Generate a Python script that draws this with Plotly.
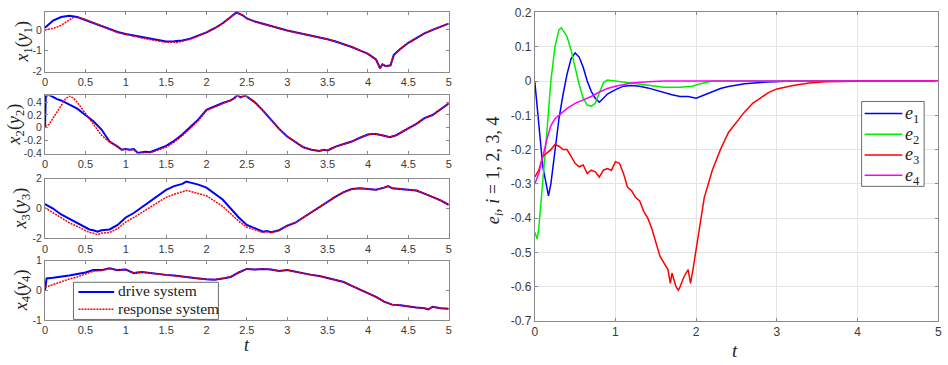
import plotly.graph_objects as go

# ---------------- data (t, value) points ----------------
x1_drive = [(0,0.10),(0.1,0.45),(0.2,0.62),(0.3,0.68),(0.4,0.62),(0.5,0.48),(0.6,0.33),(0.7,0.18),
            (0.8,0.05),(0.9,-0.10),(1.0,-0.20),(1.1,-0.27),(1.2,-0.36),(1.3,-0.44),(1.4,-0.50),(1.5,-0.56),
            (1.6,-0.55),(1.7,-0.51),(1.8,-0.42),(1.9,-0.28),(2.0,-0.12),(2.1,0.08),(2.2,0.32),(2.3,0.62),
            (2.37,0.84),(2.45,0.70),(2.5,0.55),(2.6,0.40),(2.7,0.29),(2.8,0.18),(2.9,0.07),(3.0,-0.03),
            (3.1,-0.11),(3.2,-0.19),(3.3,-0.27),(3.4,-0.35),(3.5,-0.45),(3.6,-0.56),(3.7,-0.68),(3.8,-0.82),
            (3.9,-0.98),(4.0,-1.15),(4.05,-1.28),(4.1,-1.42),(4.15,-1.84),(4.18,-1.65),(4.22,-1.74),(4.28,-1.70),
            (4.32,-1.20),(4.4,-0.92),(4.5,-0.62),(4.6,-0.38),(4.7,-0.17),(4.8,0.0),(4.9,0.15),(5.0,0.30)]
x1_resp = [(0,0.0),(0.1,0.07),(0.2,0.22),(0.3,0.50),(0.35,0.60),(0.4,0.60),(0.5,0.50),(0.6,0.34),
           (0.7,0.17),(0.8,0.03),(0.9,-0.13),(1.0,-0.23),(1.1,-0.30),(1.2,-0.39),(1.3,-0.47),(1.4,-0.53),
           (1.5,-0.59),(1.6,-0.58),(1.65,-0.60),(1.7,-0.54),(1.8,-0.45),(1.9,-0.30),(2.0,-0.13),(2.1,0.06),
           (2.2,0.30),(2.3,0.60),(2.37,0.83),(2.45,0.70),(2.5,0.55),(2.6,0.40),(2.7,0.29),(2.8,0.18),
           (2.9,0.07),(3.0,-0.03),(3.1,-0.11),(3.2,-0.19),(3.3,-0.27),(3.4,-0.35),(3.5,-0.45),(3.6,-0.56),
           (3.7,-0.68),(3.8,-0.82),(3.9,-0.98),(4.0,-1.15),(4.05,-1.28),(4.1,-1.42),(4.15,-1.84),(4.18,-1.65),
           (4.22,-1.74),(4.28,-1.70),(4.32,-1.20),(4.4,-0.92),(4.5,-0.62),(4.6,-0.38),(4.7,-0.17),(4.8,0.0),
           (4.9,0.15),(5.0,0.30)]

x2_drive = [(0,0.0),(0.01,0.50),(0.05,0.52),(0.1,0.48),(0.15,0.45),(0.2,0.43),(0.3,0.37),(0.4,0.30),
            (0.5,0.20),(0.6,0.10),(0.7,-0.03),(0.8,-0.22),(0.9,-0.30),(0.95,-0.35),(1.0,-0.34),(1.05,-0.35),
            (1.1,-0.34),(1.15,-0.40),(1.2,-0.39),(1.25,-0.38),(1.3,-0.39),(1.4,-0.34),(1.5,-0.29),(1.6,-0.21),
            (1.7,-0.11),(1.8,0.01),(1.9,0.13),(2.0,0.28),(2.1,0.34),(2.2,0.39),(2.3,0.43),(2.35,0.47),
            (2.38,0.52),(2.42,0.48),(2.48,0.51),(2.55,0.45),(2.6,0.40),(2.7,0.27),(2.8,0.12),(2.9,-0.02),
            (3.0,-0.14),(3.1,-0.23),(3.2,-0.31),(3.3,-0.35),(3.35,-0.36),(3.4,-0.37),(3.45,-0.35),(3.5,-0.36),
            (3.55,-0.33),(3.6,-0.30),(3.7,-0.26),(3.8,-0.22),(3.9,-0.16),(4.0,-0.11),(4.05,-0.10),(4.1,-0.10),
            (4.2,-0.13),(4.27,-0.15),(4.35,-0.12),(4.4,-0.08),(4.5,-0.01),(4.6,0.06),(4.7,0.15),(4.8,0.20),
            (4.9,0.29),(5.0,0.38)]
x2_resp = [(0,0.02),(0.05,0.05),(0.1,0.15),(0.15,0.25),(0.2,0.36),(0.25,0.45),(0.3,0.50),(0.35,0.47),
           (0.4,0.40),(0.5,0.22),(0.6,0.04),(0.7,-0.12),(0.8,-0.23),(0.9,-0.30),(0.95,-0.35),(1.0,-0.34),
           (1.05,-0.35),(1.1,-0.35),(1.15,-0.41),(1.2,-0.40),(1.25,-0.40),(1.3,-0.40),(1.4,-0.36),(1.5,-0.31),
           (1.6,-0.23),(1.7,-0.13),(1.8,-0.01),(1.9,0.11),(2.0,0.27),(2.1,0.33),(2.2,0.38),(2.3,0.43),
           (2.35,0.47),(2.38,0.52),(2.42,0.48),(2.48,0.51),(2.55,0.45),(2.6,0.40),(2.7,0.27),(2.8,0.12),
           (2.9,-0.02),(3.0,-0.14),(3.1,-0.23),(3.2,-0.31),(3.3,-0.35),(3.35,-0.36),(3.4,-0.37),(3.45,-0.35),
           (3.5,-0.36),(3.55,-0.33),(3.6,-0.30),(3.7,-0.26),(3.8,-0.22),(3.9,-0.16),(4.0,-0.11),(4.05,-0.10),
           (4.1,-0.10),(4.2,-0.13),(4.27,-0.15),(4.35,-0.12),(4.4,-0.08),(4.5,-0.01),(4.6,0.06),(4.7,0.15),
           (4.8,0.20),(4.9,0.29),(5.0,0.38)]

x3_drive = [(0,0.30),(0.1,0.0),(0.2,-0.40),(0.3,-0.70),(0.4,-1.0),(0.5,-1.25),(0.55,-1.40),(0.6,-1.45),
            (0.65,-1.55),(0.7,-1.45),(0.8,-1.40),(0.9,-1.10),(1.0,-0.60),(1.1,-0.30),(1.2,0.10),(1.3,0.50),
            (1.4,0.90),(1.5,1.25),(1.6,1.50),(1.7,1.65),(1.75,1.80),(1.8,1.75),(1.9,1.60),(2.0,1.40),
            (2.1,1.0),(2.2,0.60),(2.3,0.0),(2.4,-0.60),(2.5,-1.10),(2.6,-1.35),(2.7,-1.55),(2.75,-1.50),
            (2.8,-1.58),(2.9,-1.45),(3.0,-1.15),(3.1,-0.95),(3.2,-0.60),(3.3,-0.25),(3.4,0.15),(3.5,0.50),
            (3.6,0.80),(3.7,1.10),(3.8,1.30),(3.9,1.35),(4.0,1.30),(4.1,1.25),(4.2,1.40),(4.25,1.50),
            (4.3,1.35),(4.4,1.30),(4.5,1.25),(4.6,1.20),(4.7,1.0),(4.8,0.80),(4.9,0.55),(5.0,0.25)]
x3_resp = [(0,0.05),(0.1,-0.30),(0.2,-0.65),(0.3,-0.95),(0.4,-1.20),(0.5,-1.45),(0.55,-1.60),(0.6,-1.65),
           (0.65,-1.75),(0.7,-1.65),(0.8,-1.60),(0.9,-1.35),(1.0,-0.90),(1.1,-0.60),(1.2,-0.25),(1.3,0.10),
           (1.4,0.40),(1.5,0.75),(1.6,0.95),(1.7,1.10),(1.75,1.20),(1.8,1.15),(1.9,1.0),(2.0,0.85),
           (2.1,0.50),(2.2,0.15),(2.3,-0.35),(2.4,-0.85),(2.5,-1.25),(2.6,-1.45),(2.7,-1.60),(2.75,-1.55),
           (2.8,-1.62),(2.9,-1.47),(3.0,-1.15),(3.1,-0.95),(3.2,-0.60),(3.3,-0.25),(3.4,0.15),(3.5,0.50),
           (3.6,0.80),(3.7,1.10),(3.8,1.30),(3.9,1.35),(4.0,1.30),(4.1,1.25),(4.2,1.40),(4.25,1.50),
           (4.3,1.35),(4.4,1.30),(4.5,1.25),(4.6,1.20),(4.7,1.0),(4.8,0.80),(4.9,0.55),(5.0,0.25)]

x4_drive = [(0,0.0),(0.02,0.40),(0.1,0.42),(0.2,0.45),(0.3,0.50),(0.4,0.55),(0.5,0.60),(0.6,0.68),
            (0.7,0.68),(0.8,0.74),(0.9,0.68),(1.0,0.70),(1.1,0.58),(1.2,0.62),(1.3,0.58),(1.4,0.55),
            (1.5,0.52),(1.6,0.50),(1.7,0.46),(1.8,0.42),(1.9,0.40),(2.0,0.37),(2.1,0.36),(2.2,0.40),
            (2.3,0.45),(2.4,0.60),(2.5,0.72),(2.6,0.70),(2.7,0.72),(2.8,0.70),(2.9,0.65),(3.0,0.68),
            (3.1,0.62),(3.2,0.58),(3.3,0.52),(3.4,0.48),(3.5,0.42),(3.6,0.35),(3.7,0.28),(3.8,0.15),
            (3.9,0.02),(4.0,-0.10),(4.1,-0.22),(4.2,-0.38),(4.3,-0.48),(4.4,-0.50),(4.5,-0.55),(4.6,-0.58),
            (4.7,-0.60),(4.75,-0.64),(4.8,-0.55),(4.9,-0.60),(5.0,-0.62)]
x4_resp = [(0,0.10),(0.1,0.20),(0.2,0.30),(0.3,0.38),(0.4,0.45),(0.5,0.55),(0.6,0.64),(0.7,0.66),
           (0.8,0.73),(0.9,0.68),(1.0,0.70),(1.1,0.58),(1.2,0.62),(1.3,0.58),(1.4,0.55),(1.5,0.52),
           (1.6,0.50),(1.7,0.46),(1.8,0.42),(1.9,0.40),(2.0,0.37),(2.1,0.36),(2.2,0.40),(2.3,0.45),
           (2.4,0.60),(2.5,0.72),(2.6,0.70),(2.7,0.72),(2.8,0.70),(2.9,0.65),(3.0,0.68),(3.1,0.62),
           (3.2,0.58),(3.3,0.52),(3.4,0.48),(3.5,0.42),(3.6,0.35),(3.7,0.28),(3.8,0.15),(3.9,0.02),
           (4.0,-0.10),(4.1,-0.22),(4.2,-0.38),(4.3,-0.48),(4.4,-0.50),(4.5,-0.55),(4.6,-0.58),(4.7,-0.60),
           (4.75,-0.64),(4.8,-0.55),(4.9,-0.60),(5.0,-0.62)]

e1 = [(0,0.0),(0.05,-0.12),(0.1,-0.25),(0.15,-0.31),(0.17,-0.335),(0.2,-0.30),(0.25,-0.20),(0.3,-0.11),
      (0.35,-0.04),(0.4,0.02),(0.45,0.065),(0.5,0.082),(0.55,0.07),(0.6,0.04),(0.65,0.0),(0.7,-0.03),
      (0.75,-0.05),(0.8,-0.062),(0.85,-0.05),(0.9,-0.038),(1.0,-0.025),(1.1,-0.015),(1.2,-0.013),
      (1.3,-0.015),(1.4,-0.02),(1.5,-0.027),(1.6,-0.033),(1.7,-0.04),(1.8,-0.045),(1.9,-0.045),
      (2.0,-0.05),(2.1,-0.04),(2.2,-0.03),(2.3,-0.022),(2.4,-0.016),(2.5,-0.012),(2.6,-0.008),
      (2.8,-0.004),(3.0,-0.001),(3.2,0.0),(5.0,0.0)]
e2 = [(0,-0.44),(0.03,-0.46),(0.05,-0.43),(0.1,-0.30),(0.15,-0.15),(0.2,0.0),(0.25,0.10),(0.3,0.15),
      (0.33,0.155),(0.4,0.13),(0.45,0.09),(0.5,0.04),(0.55,-0.01),(0.6,-0.05),(0.65,-0.07),(0.7,-0.073),
      (0.75,-0.065),(0.8,-0.035),(0.85,-0.005),(0.9,0.003),(1.0,0.0),(1.1,-0.003),(1.2,-0.007),
      (1.4,-0.013),(1.6,-0.018),(1.8,-0.018),(1.95,-0.015),(2.05,-0.008),(2.2,0.0),(5.0,0.0)]
e3 = [(0,-0.28),(0.05,-0.26),(0.1,-0.22),(0.15,-0.21),(0.2,-0.20),(0.25,-0.185),(0.3,-0.19),(0.35,-0.20),
      (0.4,-0.20),(0.45,-0.22),(0.5,-0.24),(0.55,-0.25),(0.6,-0.245),(0.65,-0.27),(0.7,-0.26),(0.75,-0.265),
      (0.8,-0.28),(0.85,-0.26),(0.9,-0.255),(0.95,-0.26),(1.0,-0.235),(1.05,-0.24),(1.1,-0.27),(1.15,-0.31),
      (1.2,-0.32),(1.25,-0.34),(1.3,-0.35),(1.35,-0.38),(1.4,-0.40),(1.45,-0.43),(1.5,-0.47),(1.55,-0.51),
      (1.6,-0.53),(1.65,-0.55),(1.68,-0.59),(1.7,-0.56),(1.75,-0.60),(1.78,-0.61),(1.8,-0.60),(1.85,-0.57),
      (1.9,-0.55),(1.93,-0.59),(1.96,-0.55),(2.0,-0.49),(2.05,-0.42),(2.1,-0.34),(2.2,-0.26),(2.3,-0.20),
      (2.4,-0.15),(2.5,-0.12),(2.6,-0.09),(2.7,-0.065),(2.8,-0.048),(2.9,-0.033),(3.0,-0.023),(3.2,-0.013),
      (3.4,-0.006),(3.6,-0.002),(3.8,-0.001),(4.0,0.0),(5.0,0.0)]
e4 = [(0,-0.30),(0.05,-0.27),(0.1,-0.22),(0.15,-0.17),(0.2,-0.13),(0.25,-0.11),(0.3,-0.10),(0.4,-0.08),
      (0.5,-0.065),(0.6,-0.055),(0.7,-0.045),(0.8,-0.032),(0.9,-0.022),(1.0,-0.015),(1.1,-0.01),
      (1.2,-0.006),(1.4,-0.002),(1.6,0.0),(5.0,0.0)]

left_xticks = [0, 0.5, 1, 1.5, 2, 2.5, 3, 3.5, 4, 4.5, 5]
left_xticktext = ["0", "0.5", "1", "1.5", "2", "2.5", "3", "3.5", "4", "4.5", "5"]
y1_ticks, y1_text = [-2, -1, 0], ["-2", "-1", "0"]
y2_ticks, y2_text = [-0.4, -0.2, 0, 0.2, 0.4], ["-0.4", "-0.2", "0", "0.2", "0.4"]
y3_ticks, y3_text = [-2, 0, 2], ["-2", "0", "2"]
y4_ticks, y4_text = [-1, 0, 1], ["-1", "0", "1"]
right_xticks = [0, 1, 2, 3, 4, 5]
right_xticktext = ["0", "1", "2", "3", "4", "5"]
right_yticks = [-0.7, -0.6, -0.5, -0.4, -0.3, -0.2, -0.1, 0, 0.1, 0.2]
right_yticktext = ["-0.7", "-0.6", "-0.5", "-0.4", "-0.3", "-0.2", "-0.1", "0", "0.1", "0.2"]
left_legend_names = ["drive system", "response system"]
right_legend_names = ["<i>e</i><sub>1</sub>", "<i>e</i><sub>2</sub>", "<i>e</i><sub>3</sub>", "<i>e</i><sub>4</sub>"]


def unzip(pts):
    return [p[0] for p in pts], [p[1] for p in pts]


FW, FH = 948, 365


def px(x):  # window pixel -> paper x
    return x / FW


def py(y):  # window pixel -> paper y
    return 1 - y / FH


BLUE, RED, GREEN, MAG = "#0000ff", "#ff0000", "#00ee00", "#ff00ff"
RED_DASH = "2px,1px"
SERIF = "Liberation Serif"
SANS = "Liberation Sans"

fig = go.Figure()

left = [(x1_drive, x1_resp, "x", "y"), (x2_drive, x2_resp, "x2", "y2"),
        (x3_drive, x3_resp, "x3", "y3"), (x4_drive, x4_resp, "x4", "y4")]
for i, (d, r, xa, ya) in enumerate(left):
    tx, vy = unzip(d)
    fig.add_trace(go.Scatter(x=tx, y=vy, mode="lines", xaxis=xa, yaxis=ya,
                             line=dict(color=BLUE, width=2), name=left_legend_names[0],
                             showlegend=False))
    tx, vy = unzip(r)
    fig.add_trace(go.Scatter(x=tx, y=vy, mode="lines", xaxis=xa, yaxis=ya,
                             line=dict(color=RED, width=1.5, dash=RED_DASH), name=left_legend_names[1],
                             showlegend=False))

ecolors = [BLUE, GREEN, RED, MAG]
for pts, col, lab in zip([e1, e2, e3, e4], ecolors, right_legend_names):
    tx, vy = unzip(pts)
    fig.add_trace(go.Scatter(x=tx, y=vy, mode="lines", xaxis="x5", yaxis="y5",
                             line=dict(color=col, width=1.5), name=lab, showlegend=False))

AX = dict(showline=True, linecolor="#8a8a8a", linewidth=1, mirror="ticks", ticks="inside",
          ticklen=3, tickcolor="#8a8a8a", zeroline=False, showgrid=False,
          tickfont=dict(family=SANS, size=11, color="#3a3a3a"), fixedrange=True)

xdom_left = [px(42.3), px(449)]
ydoms = [(6, 68), (92.7, 153), (179, 241), (264, 325.7)]
yranges = [[-2, 0.87], [-0.41, 0.51], [-2, 2], [-1, 1]]
yt = [(y1_ticks, y1_text), (y2_ticks, y2_text), (y3_ticks, y3_text), (y4_ticks, y4_text)]
names = ["", "2", "3", "4"]
for k in range(4):
    top, bot = ydoms[k]
    fig.layout["xaxis" + names[k]] = dict(AX, domain=xdom_left, range=[0, 5],
                                          anchor="y" + names[k], tickvals=left_xticks,
                                          ticktext=left_xticktext)
    fig.layout["yaxis" + names[k]] = dict(AX, domain=[py(bot), py(top)],
                                          range=yranges[k], anchor="x" + names[k],
                                          tickvals=yt[k][0], ticktext=yt[k][1],
                                          tickfont=dict(family=SANS, size=10.5, color="#3a3a3a"))

fig.layout["xaxis5"] = dict(AX, domain=[px(535.7), px(942.3)], range=[0, 5], anchor="y5",
                            tickvals=right_xticks, ticktext=right_xticktext, showgrid=True,
                            gridcolor="#e4e4e4", tickfont=dict(family=SANS, size=12, color="#3a3a3a"))
fig.layout["yaxis5"] = dict(AX, domain=[py(326.7), py(6.7)], range=[-0.7, 0.2], anchor="x5",
                            tickvals=right_yticks, ticktext=right_yticktext, showgrid=True,
                            gridcolor="#e4e4e4", tickfont=dict(family=SANS, size=12, color="#3a3a3a"))

ylabels = ["<i>x</i><sub>1</sub>(<i>y</i><sub>1</sub>)", "<i>x</i><sub>2</sub>(<i>y</i><sub>2</sub>)",
           "<i>x</i><sub>3</sub>(<i>y</i><sub>3</sub>)", "<i>x</i><sub>4</sub>(<i>y</i><sub>4</sub>)"]
ylabel_x = [21, 13, 19, 19]
LBL = dict(xref="paper", yref="paper", showarrow=False, xanchor="center", yanchor="middle")
annotations = []
for k in range(4):
    top, bot = ydoms[k]
    annotations.append(dict(LBL, text=ylabels[k], x=px(ylabel_x[k]), y=py((top + bot) / 2), textangle=-90,
                            font=dict(family=SERIF, size=18, color="#222")))
annotations.append(dict(LBL, text="<i>t</i>", x=px(245.5), y=py(352),
                        font=dict(family=SERIF, size=18, color="#222")))
annotations.append(dict(LBL, text="<i>t</i>", x=px(737), y=py(357),
                        font=dict(family=SERIF, size=19, color="#222")))
annotations.append(dict(LBL, text="<i>e<sub>i</sub></i>, <i>i</i> = 1, 2, 3, 4", x=px(496), y=py(170),
                        textangle=-90, font=dict(family=SERIF, size=18, color="#222")))

# ---- legend boxes (drawn in page space, matching the reference boxes) ----
shapes = []
BOX = dict(type="rect", xref="paper", yref="paper", line=dict(color="#6a6a6a", width=1),
           fillcolor="white", layer="above")
shapes.append(dict(BOX, x0=px(71), x1=px(217), y0=py(325), y1=py(286.5)))
left_rows = [296.5, 314.5]
left_styles = [dict(color=BLUE, width=2), dict(color=RED, width=1.5, dash=RED_DASH)]
for row, sty, name in zip(left_rows, left_styles, left_legend_names):
    shapes.append(dict(type="line", xref="paper", yref="paper", x0=px(76), x1=px(112),
                       y0=py(row), y1=py(row), line=sty, layer="above"))
    annotations.append(dict(xref="paper", yref="paper", showarrow=False, xanchor="left", yanchor="middle",
                            x=px(114), y=py(row - 1), text=name,
                            font=dict(family=SERIF, size=15.5, color="#222")))

shapes.append(dict(BOX, x0=px(865), x1=px(928), y0=py(187), y1=py(99)))
right_rows = [111.5, 133, 154.5, 175.5]
for row, col, name in zip(right_rows, ecolors, right_legend_names):
    shapes.append(dict(type="line", xref="paper", yref="paper", x0=px(868), x1=px(906),
                       y0=py(row), y1=py(row), line=dict(color=col, width=1.5), layer="above"))
    annotations.append(dict(xref="paper", yref="paper", showarrow=False, xanchor="left", yanchor="middle",
                            x=px(907), y=py(row + 1), text=name,
                            font=dict(family=SERIF, size=18, color="#222")))

fig.update_layout(
    width=FW, height=FH, margin=dict(l=0, r=0, t=0, b=0),
    paper_bgcolor="white", plot_bgcolor="white",
    annotations=annotations, shapes=shapes, showlegend=False,
)

fig.write_html("out.html", config={"displayModeBar": False},
               post_script="document.body.style.margin='0px';")
